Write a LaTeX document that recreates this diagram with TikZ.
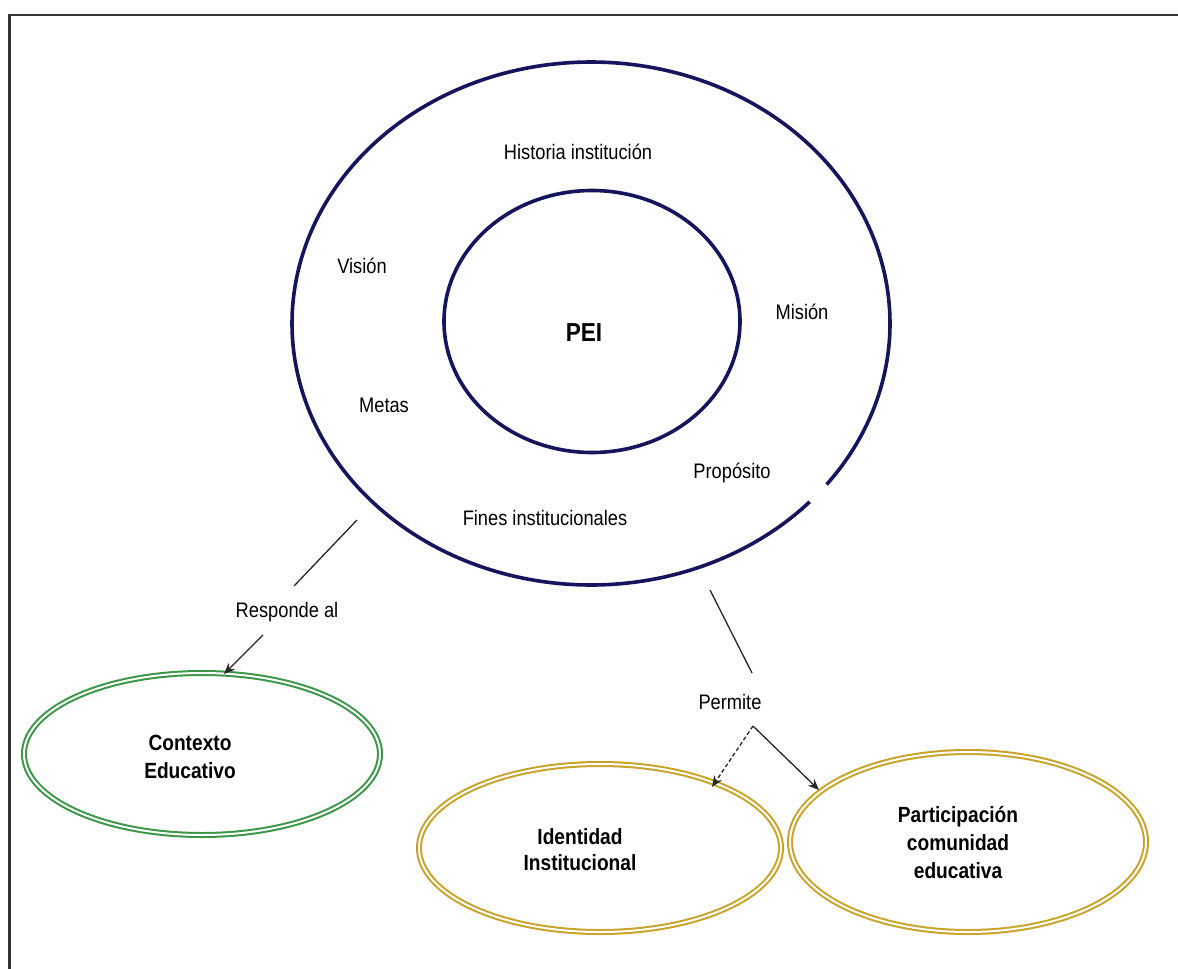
\documentclass[tikz,border=0pt]{standalone}
\usepackage{fontspec}
\setmainfont{Liberation Sans}[FakeStretch=0.87]
\usetikzlibrary{shapes.geometric,arrows.meta}
\definecolor{navy}{HTML}{15155E}
\definecolor{cgreen}{HTML}{389646}
\definecolor{cgold}{HTML}{C9A227}
\begin{document}
\begin{tikzpicture}[x=1pt,y=-1pt,
 lbl/.style={font=\fontsize{21}{25}\selectfont, inner sep=0pt},
 blbl/.style={font=\fontsize{22}{27}\selectfont\bfseries, align=center, inner sep=0pt},
 ring/.style={draw=navy, line width=3.6pt},
 dbl/.style={ellipse, draw=#1, line width=2pt, double=white, double distance=2pt, inner sep=0pt},
 conn/.style={draw=black!85, line width=1.3pt},
 tip/.style={-{Stealth[length=11pt,width=9pt]}}
]
\useasboundingbox (0,0) rectangle (1178,969);
\fill[white] (0,0) rectangle (1178,969);
\draw[line width=2.4pt, black!80] (9.5,969) -- (9.5,15) -- (1178,15);

% rings
\node[ellipse, ring, minimum width=296pt, minimum height=262pt, inner sep=0pt] (inner) at (592,321.5) {};
\draw[ring] plot[domain=43:398, samples=240, smooth] ({591+299*cos(\x)},{323.5+261.5*sin(\x)});

\node[lbl] (hist) at (578,152) {Historia institución};
\node[lbl] (vision) at (362,266) {Visión};
\node[lbl] (mision) at (802,312) {Misión};
\node[font=\fontsize{26}{30}\selectfont\bfseries, inner sep=0pt] (pei) at (584,333) {PEI};
\node[lbl] (metas) at (384,405) {Metas};
\node[lbl] (prop) at (732,473) {Propósito};
\node[lbl] (fines) at (545,518) {Fines institucionales};

% lower ellipses
\node[dbl=cgreen, minimum width=356pt, minimum height=162pt] (ctx) at (202,754) {};
\node[blbl, font=\fontsize{22}{28}\selectfont\bfseries] (ctxt) at (190,757) {Contexto\\Educativo};
\node[dbl=cgold, minimum width=362pt, minimum height=168pt] (ident) at (600,848) {};
\node[blbl, font=\fontsize{22}{26}\selectfont\bfseries] (identt) at (580,850) {Identidad\\Institucional};
\node[dbl=cgold, minimum width=356pt, minimum height=180pt] (part) at (968,842) {};
\node[blbl, font=\fontsize{22}{28}\selectfont\bfseries] (partt) at (958,843) {Participación\\comunidad\\educativa};

% connectors
\coordinate (r1) at (357,520);
\coordinate (r2) at (294,586);
\draw[conn] (r1) -- (r2);
\node[lbl] (resp) at (287,612) {Responde al};
\coordinate (r3) at (263,635);
\coordinate (r4) at (224,674);
\draw[conn, tip] (r3) -- (r4);

\coordinate (p1) at (710,590);
\coordinate (p2) at (752,673);
\draw[conn] (p1) -- (p2);
\node[lbl] (perm) at (730,702) {Permite};
\coordinate (p3) at (753,726);
\coordinate (p4) at (712,787);
\coordinate (p5) at (819,790);
\draw[conn, tip, dash pattern=on 4pt off 2.5pt] (p3) -- (p4);
\draw[conn, tip] (p3) -- (p5);
\end{tikzpicture}
\end{document}
